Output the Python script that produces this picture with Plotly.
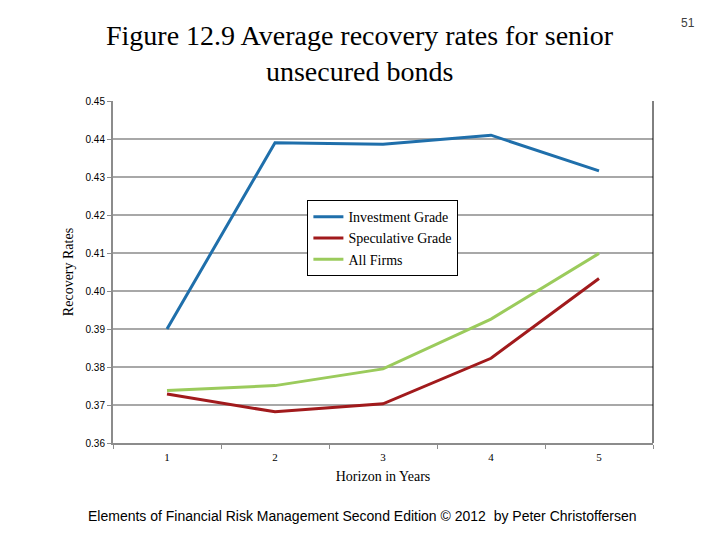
import plotly.graph_objects as go

horizon = ["1", "2", "3", "4", "5"]
investment_grade = [0.3900, 0.4390, 0.4386, 0.4410, 0.4316]
speculative_grade = [0.3729, 0.3682, 0.3703, 0.3823, 0.4033]
all_firms = [0.3738, 0.3751, 0.3795, 0.3926, 0.4099]
y_ticks = [0.36, 0.37, 0.38, 0.39, 0.40, 0.41, 0.42, 0.43, 0.44, 0.45]

serif = "Liberation Serif, Times New Roman, serif"
sans = "Liberation Sans, Arial, sans-serif"

fig = go.Figure()
fig.add_trace(go.Scatter(x=horizon, y=investment_grade, mode="lines", name="Investment Grade",
                         line=dict(color="#1F6FAB", width=3)))
fig.add_trace(go.Scatter(x=horizon, y=speculative_grade, mode="lines", name="Speculative Grade",
                         line=dict(color="#A11A1C", width=3)))
fig.add_trace(go.Scatter(x=horizon, y=all_firms, mode="lines", name="All Firms",
                         line=dict(color="#9BCB5C", width=3)))

# the page body adds an 8px margin, so the figure is a bit smaller and shifted
fig.update_layout(
    width=712, height=532,
    margin=dict(l=105, r=67, t=93, b=97),
    paper_bgcolor="white", plot_bgcolor="white",
    showlegend=True,
    legend=dict(x=0.36, y=0.71, xanchor="left", yanchor="top",
                bgcolor="white", bordercolor="black", borderwidth=1,
                font=dict(family=serif, size=14, color="black"),
                tracegroupgap=0, itemwidth=30),
)

fig.update_xaxes(
    type="category", range=[-0.5, 4.5],
    showline=True, linecolor="#8c8c8c", linewidth=2,
    showgrid=False, ticks="outside", ticklen=4, tickcolor="#8c8c8c",
    tickson="boundaries", ticklabelstandoff=3,
    tickfont=dict(family=serif, size=11, color="black"),
    title=dict(text="Horizon in Years", font=dict(family=serif, size=14, color="black"), standoff=9),
)
fig.update_yaxes(
    range=[0.36, 0.45], tickvals=y_ticks, tickformat=".2f",
    showline=True, linecolor="#8c8c8c", linewidth=2,
    showgrid=True, gridcolor="#a8a8a8", gridwidth=2,
    ticks="outside", ticklen=4, tickcolor="#8c8c8c",
    tickfont=dict(family=sans, size=10, color="black"),
    zeroline=False,
    title=dict(text="Recovery Rates", font=dict(family=serif, size=14, color="black"), standoff=9),
)

# right border of the plot area
fig.add_shape(type="line", xref="paper", yref="paper", x0=1, x1=1, y0=0, y1=1,
              line=dict(color="black", width=1))

fig.add_annotation(text="Figure 12.9 Average recovery rates for senior<br>unsecured bonds",
                   xref="paper", yref="paper", x=0.457, y=1.0, yshift=83, yanchor="top",
                   showarrow=False, align="center",
                   font=dict(family=serif, size=28, color="black"))
fig.add_annotation(text="51", xref="paper", yref="paper", x=1, xshift=35, y=1, yshift=78,
                   xanchor="center", yanchor="middle", showarrow=False,
                   font=dict(family=sans, size=12, color="#404040"))
fig.add_annotation(text="Elements of Financial Risk Management Second Edition © 2012  by Peter Christoffersen",
                   xref="paper", yref="paper", x=0.462, y=0, yshift=-73, yanchor="middle",
                   showarrow=False, font=dict(family=sans, size=14, color="black"))

fig.write_html("out.html")
